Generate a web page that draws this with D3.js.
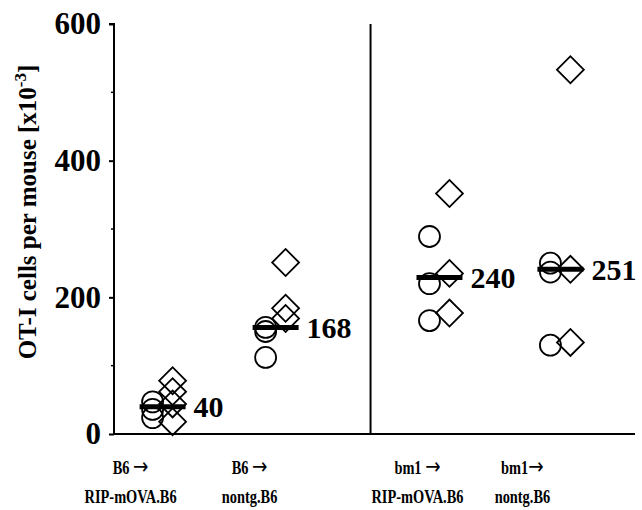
<!DOCTYPE html>
<html>
<head>
<meta charset="utf-8">
<script src="https://cdn.jsdelivr.net/npm/d3@7"></script>
<style>
    body { margin: 0; background: #fff; }
    svg text { font-family: "Liberation Serif", "Times New Roman", serif; font-weight: bold; fill: #000; }
    svg text .arrow { font-family: "DejaVu Sans", sans-serif; font-weight: normal; }
</style>
</head>
<body>
<div id="chart"></div>
<script>
// groups, top line / bottom line of the label
var donors = ['B6 ', 'B6 ', 'bm1 ', 'bm1'];
var recipients = ['RIP-mOVA.B6', 'nontg.B6', 'RIP-mOVA.B6', 'nontg.B6'];

// OT-I cells per mouse (x10^-3), one list per group
var circleValues = [
    [47, 36, 24],
    [156, 150, 112],
    [289, 220, 166],
    [250, 237, 130]
];
var diamondValues = [
    [78, 62, 44, 18],
    [251, 184, 169],
    [352, 235, 177],
    [533, 241, 134]
];
var medianValues = [40, 156, 229, 241];
var medianLabels = ['40', '168', '240', '251'];
var yTicks = [0, 200, 400, 600];
var yMinorTicks = [100, 300, 500];

var width = 642, height = 510;

var svg = d3.select('#chart').append('svg')
    .attr('width', width)
    .attr('height', height);

var y = d3.scaleLinear().domain([0, 600]).range([434, 24]);
var x = d3.scaleLinear().domain([-0.43, 4.18]).range([114, 635]);

// second pair of groups sits a bit further right
function slot(i) {
    return i + (i > 1 ? 0.45 : 0) + (i > 2 ? 0.07 : 0);
}
// the category labels are not quite centred under the points
var labelShift = [-32, -26, -22, -38];

// y axis
var yAxis = svg.append('g')
    .attr('transform', 'translate(' + x(-0.43) + ',0)')
    .call(d3.axisLeft(y).tickValues(yTicks).tickSize(5).tickPadding(8));
yAxis.select('.domain').attr('stroke-width', 2).attr('d', 'M-5,' + y(600) + 'H0V' + y(0));
yAxis.selectAll('.tick line').attr('stroke-width', 2);
yAxis.selectAll('.tick text')
    .style('font-size', '31px')
    .style('font-family', '"Liberation Serif", serif')
    .style('font-weight', 'bold');

svg.append('g').selectAll('line')
    .data(yMinorTicks)
    .enter().append('line')
    .attr('x1', x(-0.43) - 3).attr('x2', x(-0.43))
    .attr('y1', function (d) { return y(d); })
    .attr('y2', function (d) { return y(d); })
    .attr('stroke', '#000').attr('stroke-width', 1.5);

// baseline and the divider between the two pairs
svg.append('line')
    .attr('x1', x(-0.43)).attr('x2', x(4.18))
    .attr('y1', y(0)).attr('y2', y(0))
    .attr('stroke', '#000').attr('stroke-width', 2);
svg.append('line')
    .attr('x1', x(1.84)).attr('x2', x(1.84))
    .attr('y1', y(600)).attr('y2', y(0))
    .attr('stroke', '#000').attr('stroke-width', 2);

// axis title
svg.append('text')
    .attr('transform', 'translate(36,' + 212 + ') rotate(-90)')
    .attr('text-anchor', 'middle')
    .style('font-size', '25px')
    .html('OT-I cells per mouse [x10<tspan dy="-10" font-size="17px">-3</tspan><tspan dy="10">]</tspan>');

// category labels
var labels = svg.append('g').selectAll('g')
    .data(donors)
    .enter().append('g')
    .attr('transform', function (d, i) { return 'translate(' + (x(slot(i)) + labelShift[i]) + ',0)'; });
var topLine = labels.append('text')
    .attr('transform', 'translate(0,474) scale(0.8,1)')
    .attr('text-anchor', 'middle')
    .style('font-size', '18px');
topLine.append('tspan').text(function (d) { return d; });
topLine.append('tspan').attr('class', 'arrow').style('font-size', '23px').text('\u2192');
labels.append('text')
    .attr('transform', 'translate(0,503) scale(0.8,1)')
    .attr('text-anchor', 'middle')
    .style('font-size', '18px')
    .text(function (d, i) { return recipients[i]; });

// points
var groups = svg.append('g').selectAll('g')
    .data(donors)
    .enter().append('g')
    .attr('transform', function (d, i) { return 'translate(' + x(slot(i)) + ',0)'; });

groups.selectAll('circle')
    .data(function (d, i) { return circleValues[i]; })
    .enter().append('circle')
    .attr('cx', -10)
    .attr('cy', function (d) { return y(d); })
    .attr('r', 10.5)
    .attr('fill', 'none')
    .attr('stroke', '#000')
    .attr('stroke-width', 1.8);

var diamond = d3.symbol().type(d3.symbolSquare).size(19 * 19);
groups.selectAll('path.diamond')
    .data(function (d, i) { return diamondValues[i]; })
    .enter().append('path')
    .attr('class', 'diamond')
    .attr('d', diamond)
    .attr('transform', function (d) { return 'translate(10,' + y(d) + ') rotate(45)'; })
    .attr('fill', 'none')
    .attr('stroke', '#000')
    .attr('stroke-width', 1.8);

// median bars and their values
groups.append('line')
    .attr('x1', -23).attr('x2', 23)
    .attr('y1', function (d, i) { return y(medianValues[i]); })
    .attr('y2', function (d, i) { return y(medianValues[i]); })
    .attr('stroke', '#000')
    .attr('stroke-width', 5);

groups.append('text')
    .attr('x', 31)
    .attr('y', function (d, i) { return y(medianValues[i]); })
    .attr('dy', '0.35em')
    .style('font-size', '30px')
    .text(function (d, i) { return medianLabels[i]; });
</script>
</body>
</html>
